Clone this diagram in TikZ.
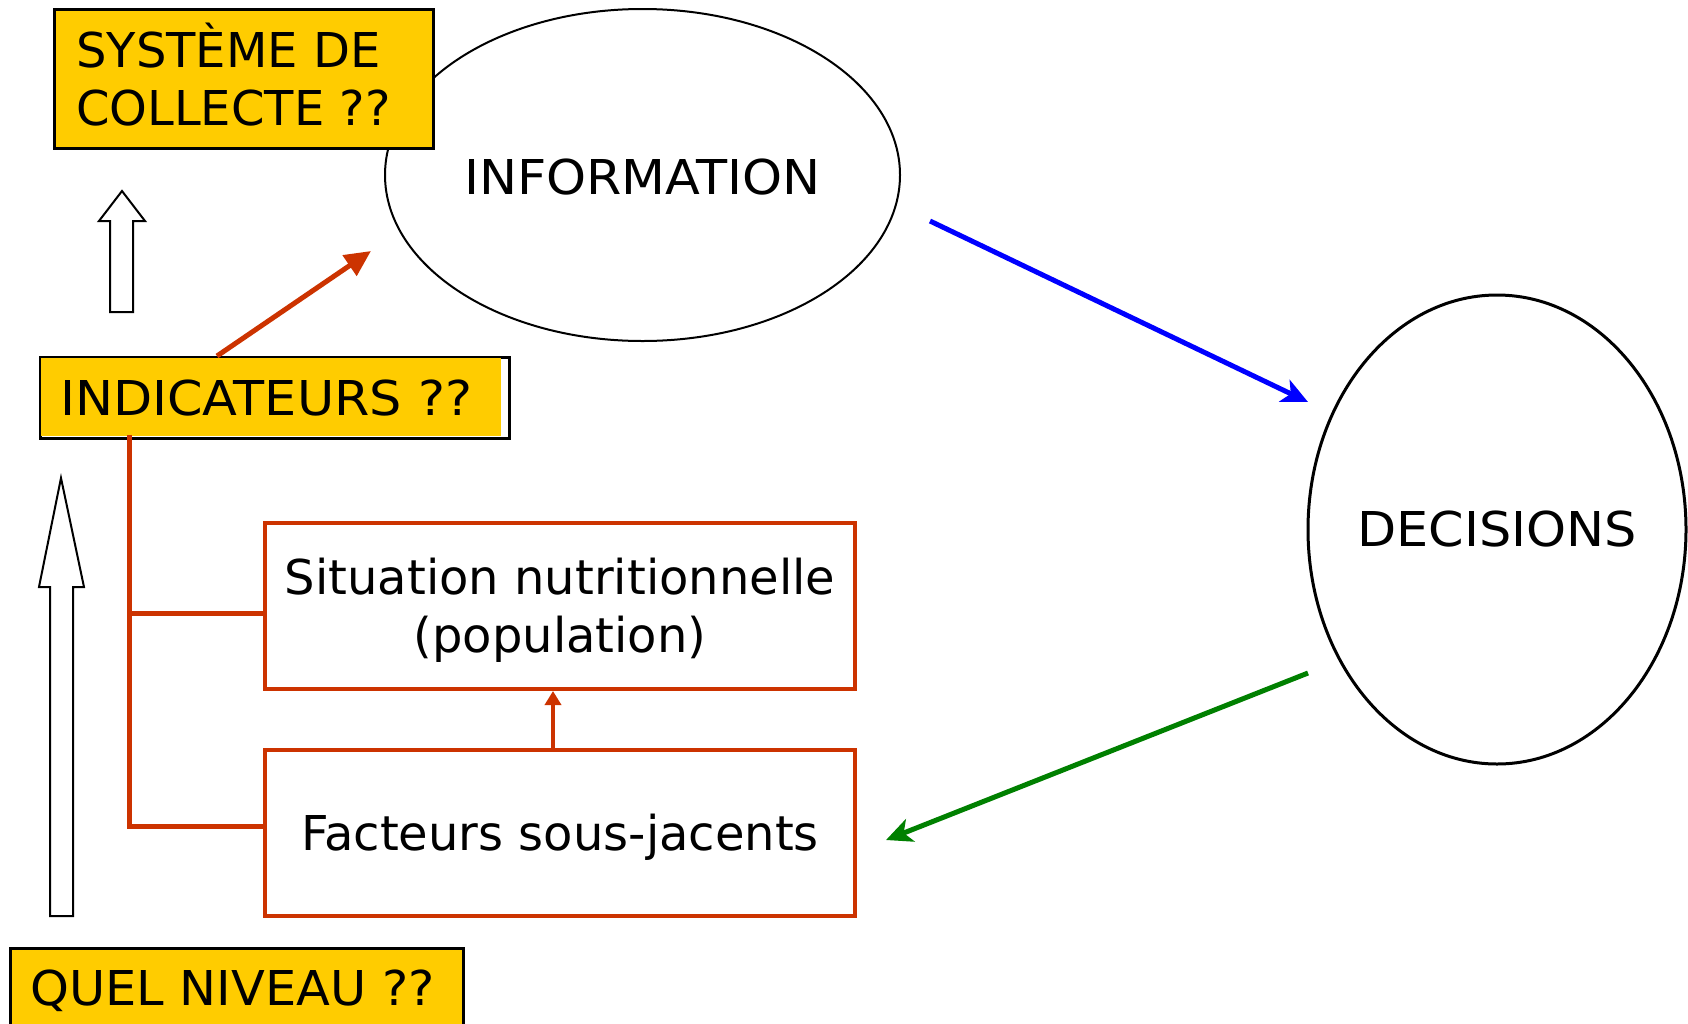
\documentclass[tikz,border=0pt]{standalone}
\usepackage{fontspec}
\setmainfont{DejaVu Sans}
\newfontfamily\wideface[FakeStretch=1.06]{DejaVu Sans}
\newfontfamily\midface[FakeStretch=1.03]{DejaVu Sans}
\usetikzlibrary{arrows.meta,shapes.geometric}
\definecolor{gold}{HTML}{FFCC00}
\definecolor{rust}{HTML}{CC3300}
\definecolor{leaf}{HTML}{008000}
\tikzset{
  big/.style={font=\fontsize{48}{58}\selectfont},
  bigwide/.style={font=\wideface\fontsize{48}{58}\selectfont},
  bigmid/.style={font=\midface\fontsize{48}{58}\selectfont},
  goldbox/.style={draw=black, line width=3pt, fill=gold, inner sep=0pt, anchor=north west},
  tag/.style={big, anchor=base west, inner sep=0pt},
  rustbox/.style={draw=rust, line width=3.5pt, inner sep=0pt, minimum width=590pt, minimum height=166pt},
  boxtext/.style={big, align=center, inner sep=0pt, yshift=-4pt},
  rustline/.style={draw=rust, line width=5pt},
  hollow/.style={draw=black, line width=2pt, fill=white, line join=miter},
}
\begin{document}
\begin{tikzpicture}[x=1pt,y=-1pt]
\useasboundingbox (0,0) rectangle (1688,1023);
\clip (0,0) rectangle (1688,1023);

% ellipses
\node (info) [draw, line width=2pt, ellipse, minimum width=515pt, minimum height=332pt, inner sep=0pt]
  at (642.5,175) {};
\node (infotxt) [bigwide, inner sep=0pt, yshift=-2pt] at (info.center) {INFORMATION};
\node (dec) [draw, line width=3pt, ellipse, minimum width=378pt, minimum height=469pt, inner sep=0pt]
  at (1497,529.5) {};
\node (dectxt) [bigwide, inner sep=0pt] at (dec.center) {DECISIONS};

% yellow question boxes
\node (sys) [goldbox, minimum width=379pt, minimum height=139pt] at (53,8) {};
\node (systxt1) [tag] at (76,67) {SYSTÈME DE};
\node (systxt2) [tag] at (76,125) {COLLECTE ??};

\node (indframe) [draw=black, line width=3pt, fill=white, inner sep=0pt, anchor=north west,
  minimum width=469pt, minimum height=81pt] at (39,356) {};
\node (ind) [fill=gold, inner sep=0pt, anchor=north west, minimum width=460pt, minimum height=78pt]
  at (40.5,357.5) {};
\node (indtxt) [tag, bigwide] at (60,415) {INDICATEURS ??};

\node (quel) [goldbox, minimum width=453pt, minimum height=90pt] at (9,947) {};
\node (queltxt) [tag, bigmid] at (30,1005) {QUEL NIVEAU ??};

% red boxes
\node (sit) [rustbox] at (560,606) {};
\node (sittxt) [boxtext] at (sit.center) {Situation nutritionnelle\\(population)};
\node (fac) [rustbox] at (560,833) {};
\node (factxt) [boxtext] at (fac.center) {Facteurs sous-jacents};

% hollow block arrows
\draw[hollow] (110,312) -- (110,221) -- (99,221) -- (122,191) -- (145,221) -- (133,221) -- (133,312) -- cycle;
\draw[hollow] (50,916) -- (50,587) -- (39,587) -- (61,478) -- (84,587) -- (73,587) -- (73,916) -- cycle;

% red bracket linking the indicators to both levels
\coordinate (brtop) at (129,435);
\coordinate (brsit) at (129,613);
\coordinate (brfac) at (129,826);
\draw[rustline] (brtop) -- (brfac);
\draw[rustline] (brsit) -- (sit.west |- brsit);
\draw[rustline, line cap=rect] (brfac) -- (fac.west |- brfac);

% factors feed the nutritional situation
\draw[rustline, line width=4pt, -{Triangle[length=14pt,width=16pt]}] (fac.north -| 553,0) -- (553,691);

% indicators produce information
\coordinate (indout) at (217,356);
\coordinate (infoin) at (371,251);
\draw[rustline, -{Triangle[length=26pt,width=24pt]}] (indout) -- (infoin);

% information to decisions, decisions back to factors
\coordinate (infoout) at (930,221);
\coordinate (decin) at (1308,402);
\draw[blue, line width=5pt, -{Stealth[length=26pt,width=24pt,inset=7pt]}] (infoout) -- (decin);
\coordinate (decout) at (1308,673);
\coordinate (facin) at (886,840);
\draw[leaf, line width=5pt, -{Stealth[length=26pt,width=24pt,inset=7pt]}] (decout) -- (facin);
\end{tikzpicture}
\end{document}
